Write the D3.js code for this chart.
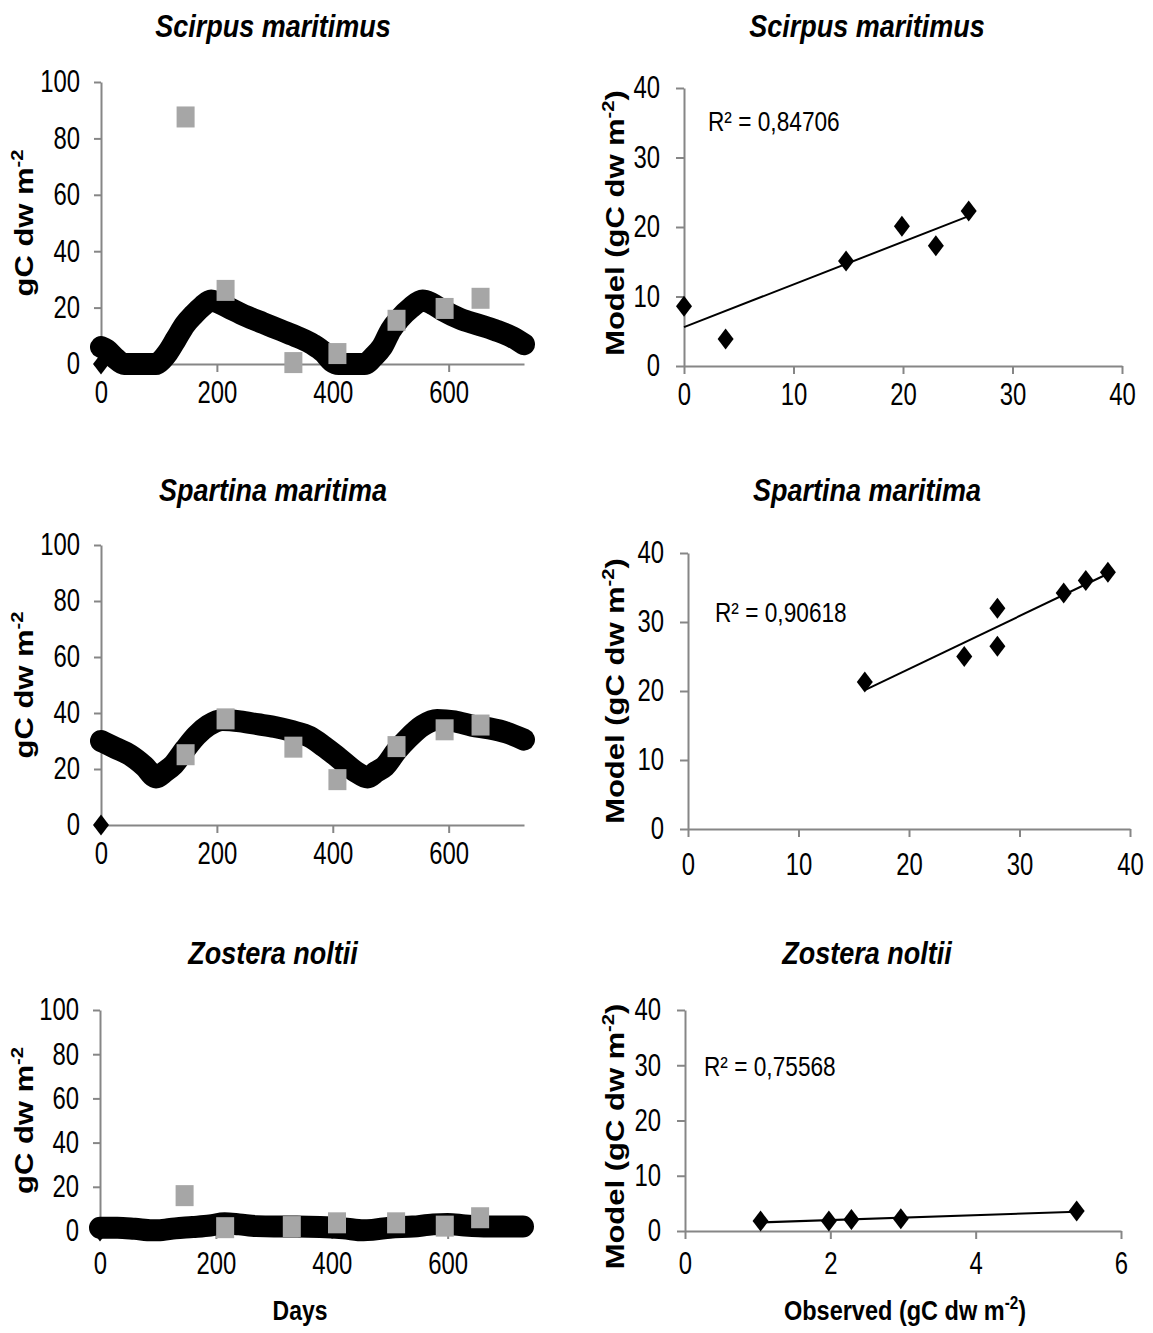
<!DOCTYPE html>
<html>
<head>
<meta charset="utf-8">
<script src="https://cdn.jsdelivr.net/npm/d3@7"></script>
<style>
  body { margin: 0; background: #fff; }
  svg { display: block; }
</style>
</head>
<body>
<div id="chart"></div>
<script>
// ---- data ----
const timeTicks = [0, 200, 400, 600];
const biomassTicks = [0, 20, 40, 60, 80, 100];
const fitTicksWide = [0, 10, 20, 30, 40];
const fitTicksNarrow = [0, 2, 4, 6];

const speciesNames = ['Scirpus maritimus', 'Spartina maritima', 'Zostera noltii'];
const r2Values = ['0,84706', '0,90618', '0,75568'];

// model runs start from an empty pool at day 0
const modelStart = [[0, 0]];

// [day, gC dw m-2]
const scirpusModel = [[0,6],[10,5],[25,2],[40,0],[95,0],[105,1.5],[115,4],[130,9],[145,14],[160,17.5],[175,20.5],[190,22.5],[200,22],[220,20],[250,17],[280,14.5],[310,12],[340,9.5],[365,7],[385,4],[398,1],[410,0],[455,0],[470,2.5],[485,6],[500,12],[515,16],[535,20],[555,22.5],[570,21.5],[590,19],[620,16],[650,14],[680,12],[710,9.5],[730,7]];
const scirpusObserved = [[146,87.6],[215,26.1],[332,0.5],[408,3.7],[510,15.5],[593,19.7],[655,23.3]];

const spartinaModel = [[0,30],[25,27.5],[50,25],[75,21],[95,17],[110,19],[125,21.5],[145,27],[165,32],[185,35.5],[210,37.5],[240,37],[270,36],[300,35],[330,33.5],[360,31.5],[385,28],[410,24],[440,19],[460,17],[475,19],[490,21],[510,26.5],[530,31],[555,35.5],[580,37.5],[610,37],[640,35.5],[670,34.5],[700,33],[730,30.5]];
const spartinaObserved = [[146,25.1],[215,37.9],[332,27.8],[408,16.2],[510,28],[593,34],[655,35.7]];

const zosteraModel = [[0,1.5],[30,1.5],[60,1],[90,0.3],[100,0.3],[130,1.2],[160,1.8],[190,2.5],[215,3.5],[240,3],[270,2.2],[300,2],[340,2],[380,1.8],[420,1.2],[455,0.3],[470,0.5],[500,1.5],[540,2],[575,3],[600,3.2],[630,2.5],[670,2],[700,2],[730,2]];
const zosteraObserved = [[146,16],[216,1.5],[331,2],[409,3.7],[511,3.7],[595,2.2],[656,6]];

// [observed, model]
const scirpusFit = [[0,8.6],[3.8,3.9],[14.8,15.1],[19.9,20.1],[23,17.3],[26,22.3]];
const spartinaFit = [[16,21.3],[25,25],[28,26.5],[28,32],[34,34.2],[36,36],[38,37.2]];
const zosteraFit = [[1.04,1.8],[1.98,1.8],[2.29,2.1],[2.97,2.2],[5.39,3.6]];

// ---- layout ----
const W = 1153, H = 1333;
const font = '"Liberation Sans", Arial, sans-serif';
const axisGrey = '#868686';
const obsGrey = '#a6a6a6';
const tickSx = 0.77;

const rows = [
  { model: scirpusModel, observed: scirpusObserved, fit: scirpusFit, fitMax: 40, fitTicks: fitTicksWide,
    titleY: 26,
    left: { x0: 101, x1: 524, y0: 364, y1: 82, pad: 9 },
    right: { x0: 684, x1: 1122, y0: 366, y1: 88, pad: 9, labelShift: -4 },
    r2: { x: 708, y: 122 } },
  { model: spartinaModel, observed: spartinaObserved, fit: spartinaFit, fitMax: 40, fitTicks: fitTicksWide,
    titleY: 490,
    left: { x0: 101, x1: 524, y0: 825, y1: 545, pad: 9 },
    right: { x0: 688, x1: 1130, y0: 829, y1: 553, pad: 16, labelShift: 0 },
    r2: { x: 715, y: 613 } },
  { model: zosteraModel, observed: zosteraObserved, fit: zosteraFit, fitMax: 6, fitTicks: fitTicksNarrow,
    titleY: 953,
    left: { x0: 100, x1: 523, y0: 1231, y1: 1010, pad: 13 },
    right: { x0: 685, x1: 1121, y0: 1231, y1: 1010, pad: 13, labelShift: 16 },
    r2: { x: 704, y: 1067 } }
];

const svg = d3.select('#chart').append('svg')
  .attr('width', W)
  .attr('height', H)
  .attr('viewBox', `0 0 ${W} ${H}`);

svg.append('rect').attr('width', W).attr('height', H).attr('fill', '#fff');

// text drawn condensed, like the original (Arial squeezed sideways)
function addText(parent, x, y, parts, o = {}) {
  const fs = o.size || 28;
  const sx = o.sx || 0.85;
  const t = parent.append('text')
    .attr('transform', `translate(${x},${y}) scale(${sx},1)` + (o.rotate ? ' rotate(-90)' : ''))
    .attr('text-anchor', o.anchor || 'middle')
    .attr('dy', '0.35em')
    .style('font-family', font)
    .style('font-size', fs + 'px')
    .style('font-weight', o.bold ? 700 : 400)
    .style('font-style', o.italic ? 'italic' : 'normal')
    .attr('fill', '#000');
  // parts: plain strings, or {sup: '...'} for superscripts
  let raised = false;
  [].concat(parts).forEach(p => {
    if (typeof p === 'string') {
      const ts = t.append('tspan').text(p);
      if (raised) { ts.attr('dy', 0.38 * fs); raised = false; }
    } else {
      t.append('tspan').text(p.sup).attr('dy', -0.38 * fs).style('font-size', (fs * 0.65) + 'px');
      raised = true;
    }
  });
  return t;
}

function styleAxis(g, vertical, offset) {
  g.attr('font-size', null).attr('font-family', null);
  g.select('.domain').attr('stroke', axisGrey).attr('stroke-width', 2);
  g.selectAll('.tick line').attr('stroke', axisGrey).attr('stroke-width', 2);
  const txt = g.selectAll('.tick text')
    .attr('fill', '#000')
    .style('font-family', font)
    .style('font-size', '31px')
    .attr('transform', `scale(${tickSx},1)`);
  if (vertical) txt.attr('x', -offset / tickSx);
}

function diamond(sel, w, h) {
  return sel.attr('d', `M0,${-h}L${w},0L0,${h}L${-w},0Z`).attr('fill', '#000');
}

rows.forEach((row, i) => {
  // ---------- time series panel ----------
  const L = row.left;
  const x = d3.scaleLinear().domain([0, 730]).range([L.x0, L.x1]);
  const y = d3.scaleLinear().domain([0, 100]).range([L.y0, L.y1]);
  const gl = svg.append('g');

  gl.append('g')
    .attr('transform', `translate(0,${L.y0})`)
    .call(d3.axisBottom(x).tickValues(timeTicks).tickFormat(d3.format('d'))
      .tickSize(8).tickPadding(L.pad).tickSizeOuter(0))
    .call(g => styleAxis(g, false));
  gl.append('g')
    .attr('transform', `translate(${L.x0},0)`)
    .call(d3.axisLeft(y).tickValues(biomassTicks).tickFormat(d3.format('d'))
      .tickSize(7).tickPadding(14).tickSizeOuter(0))
    .call(g => styleAxis(g, true, 21));

  // model: dense black markers -> thick band
  const line = d3.line().x(d => x(d[0])).y(d => y(d[1])).curve(d3.curveMonotoneX);
  gl.append('path')
    .datum(row.model)
    .attr('d', line)
    .attr('fill', 'none')
    .attr('stroke', '#000')
    .attr('stroke-width', 22)
    .attr('stroke-linejoin', 'round')
    .attr('stroke-linecap', 'round');
  gl.selectAll('path.start')
    .data(modelStart)
    .join('path')
    .attr('class', 'start')
    .attr('transform', d => `translate(${x(d[0])},${y(d[1])})`)
    .call(s => diamond(s, 8, 10.5));

  gl.selectAll('rect.obs')
    .data(row.observed)
    .join('rect')
    .attr('class', 'obs')
    .attr('x', d => x(d[0]) - 9)
    .attr('y', d => y(d[1]) - 10.5)
    .attr('width', 18)
    .attr('height', 21)
    .attr('fill', obsGrey);

  addText(svg, 273, row.titleY, speciesNames[i], { size: 31, bold: true, italic: true, sx: 0.87 });
  addText(svg, 24, (L.y0 + L.y1) / 2, ['gC dw m', { sup: '-2' }], { size: 31, bold: true, rotate: true, sx: 0.85 });

  // ---------- model vs observed panel ----------
  const R = row.right;
  const fx = d3.scaleLinear().domain([0, row.fitMax]).range([R.x0, R.x1]);
  const fy = d3.scaleLinear().domain([0, 40]).range([R.y0, R.y1]);
  const gr = svg.append('g');

  gr.append('g')
    .attr('transform', `translate(0,${R.y0})`)
    .call(d3.axisBottom(fx).tickValues(row.fitTicks).tickFormat(d3.format('d'))
      .tickSize(8).tickPadding(R.pad).tickSizeOuter(0))
    .call(g => styleAxis(g, false));
  gr.append('g')
    .attr('transform', `translate(${R.x0},0)`)
    .call(d3.axisLeft(fy).tickValues(fitTicksWide).tickFormat(d3.format('d'))
      .tickSize(8).tickPadding(15).tickSizeOuter(0))
    .call(g => styleAxis(g, true, 24));

  // least-squares trend line over the observed range
  const mx = d3.mean(row.fit, d => d[0]);
  const my = d3.mean(row.fit, d => d[1]);
  const slope = d3.sum(row.fit, d => (d[0] - mx) * (d[1] - my)) / d3.sum(row.fit, d => (d[0] - mx) ** 2);
  const icept = my - slope * mx;
  const [xa, xb] = d3.extent(row.fit, d => d[0]);
  gr.append('line')
    .attr('x1', fx(xa)).attr('y1', fy(icept + slope * xa))
    .attr('x2', fx(xb)).attr('y2', fy(icept + slope * xb))
    .attr('stroke', '#000')
    .attr('stroke-width', 2);

  gr.selectAll('path.pt')
    .data(row.fit)
    .join('path')
    .attr('class', 'pt')
    .attr('transform', d => `translate(${fx(d[0])},${fy(d[1])})`)
    .call(s => diamond(s, 8, 10.5));

  addText(svg, row.r2.x, row.r2.y, 'R\u00b2 = ' + r2Values[i], { size: 27, anchor: 'start', sx: 0.84 });
  addText(svg, 867, row.titleY, speciesNames[i], { size: 31, bold: true, italic: true, sx: 0.87 });
  addText(svg, 615, (R.y0 + R.y1) / 2 + R.labelShift, ['Model (gC dw m', { sup: '-2' }, ')'],
    { size: 31, bold: true, rotate: true, sx: 0.85 });
});

addText(svg, 300, 1310, 'Days', { size: 28, bold: true, sx: 0.82 });
addText(svg, 905, 1310, ['Observed (gC dw m', { sup: '-2' }, ')'], { size: 28, bold: true, sx: 0.84 });
</script>
</body>
</html>
